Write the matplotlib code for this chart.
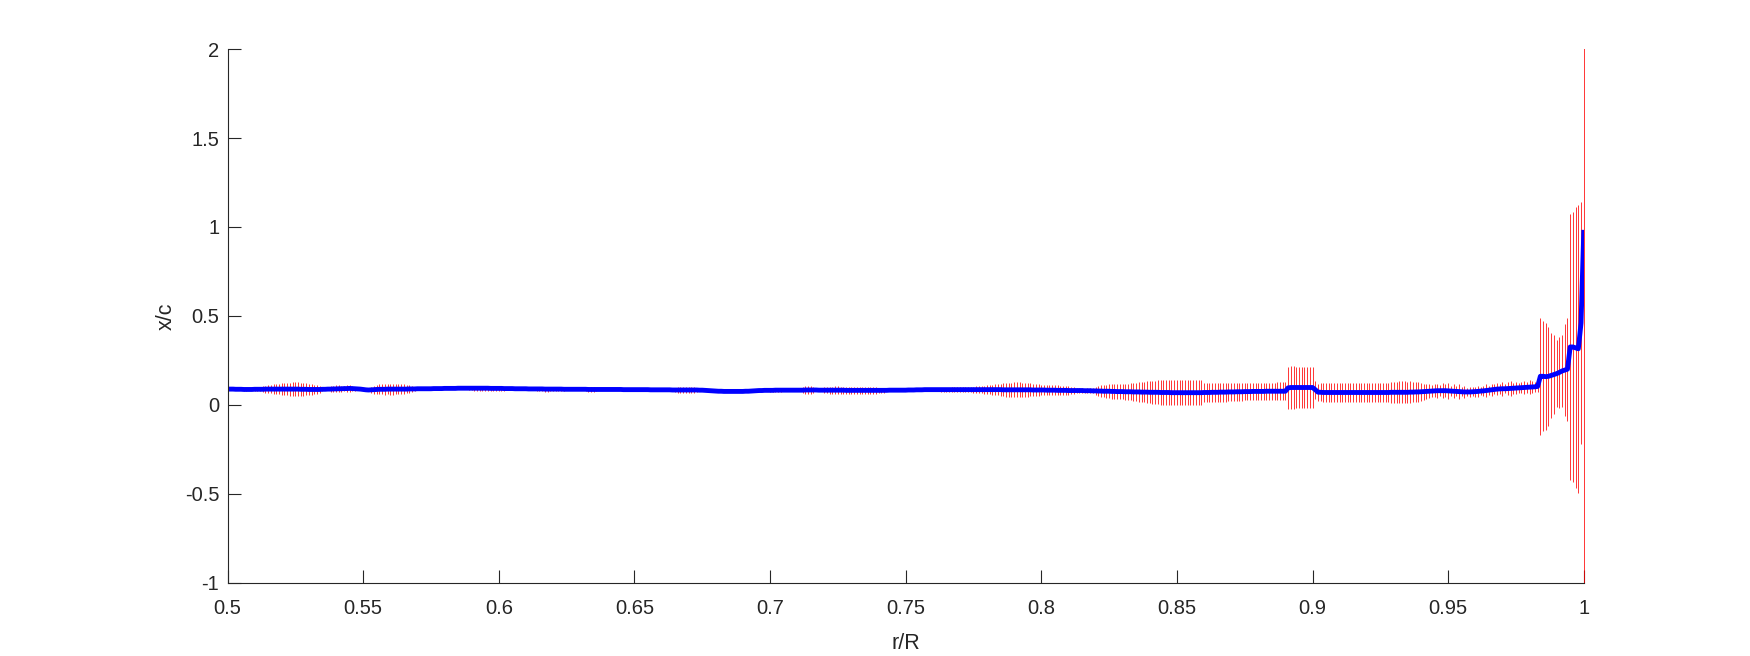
import numpy as np
import matplotlib
matplotlib.use("Agg")
import matplotlib.pyplot as plt
from matplotlib.patches import Rectangle

# radial stations r/R (0.500 ... 1.000, step 0.001)
r_over_R = np.linspace(0.5, 1.0, 501)

# mean chordwise position x/c at each station
xc_mean = [
    0.088, 0.088, 0.088, 0.087, 0.087, 0.087, 0.086, 0.086, 0.086, 0.086, 0.087, 0.087, 0.087, 0.087, 0.088, 0.088, 0.088, 0.088, 0.088, 0.088, 0.088, 0.088, 0.088, 0.088, 0.088,
    0.088, 0.088, 0.087, 0.087, 0.087, 0.086, 0.086, 0.086, 0.086, 0.086, 0.087, 0.087, 0.088, 0.088, 0.089, 0.089, 0.090, 0.090, 0.091, 0.091, 0.092, 0.091, 0.090, 0.089, 0.088,
    0.086, 0.084, 0.083, 0.084, 0.085, 0.086, 0.087, 0.087, 0.087, 0.088, 0.088, 0.088, 0.088, 0.088, 0.088, 0.088, 0.088, 0.089, 0.089, 0.089, 0.090, 0.090, 0.090, 0.090, 0.090,
    0.090, 0.091, 0.091, 0.091, 0.091, 0.092, 0.092, 0.092, 0.092, 0.092, 0.093, 0.093, 0.093, 0.093, 0.093, 0.093, 0.093, 0.093, 0.093, 0.093, 0.093, 0.093, 0.092, 0.092, 0.092,
    0.092, 0.092, 0.091, 0.091, 0.091, 0.091, 0.090, 0.090, 0.090, 0.090, 0.090, 0.089, 0.089, 0.089, 0.089, 0.089, 0.089, 0.088, 0.088, 0.088, 0.088, 0.088, 0.088, 0.088, 0.087,
    0.087, 0.087, 0.087, 0.087, 0.087, 0.087, 0.087, 0.087, 0.086, 0.086, 0.086, 0.086, 0.086, 0.086, 0.086, 0.086, 0.086, 0.086, 0.086, 0.086, 0.086, 0.085, 0.085, 0.085, 0.085,
    0.085, 0.085, 0.085, 0.085, 0.085, 0.085, 0.084, 0.084, 0.084, 0.084, 0.084, 0.084, 0.084, 0.084, 0.083, 0.083, 0.083, 0.083, 0.083, 0.083, 0.083, 0.083, 0.083, 0.083, 0.082,
    0.082, 0.081, 0.080, 0.079, 0.078, 0.077, 0.076, 0.076, 0.075, 0.075, 0.075, 0.075, 0.075, 0.075, 0.075, 0.075, 0.076, 0.076, 0.077, 0.078, 0.079, 0.080, 0.080, 0.081, 0.081,
    0.081, 0.081, 0.082, 0.082, 0.082, 0.082, 0.082, 0.082, 0.082, 0.082, 0.082, 0.082, 0.082, 0.083, 0.083, 0.083, 0.083, 0.083, 0.082, 0.082, 0.082, 0.082, 0.082, 0.082, 0.082,
    0.082, 0.082, 0.082, 0.081, 0.081, 0.081, 0.081, 0.081, 0.081, 0.081, 0.081, 0.081, 0.081, 0.081, 0.081, 0.081, 0.081, 0.081, 0.081, 0.082, 0.082, 0.082, 0.082, 0.082, 0.082,
    0.082, 0.083, 0.083, 0.083, 0.084, 0.084, 0.084, 0.085, 0.085, 0.085, 0.085, 0.085, 0.085, 0.085, 0.085, 0.085, 0.085, 0.085, 0.085, 0.085, 0.085, 0.085, 0.085, 0.085, 0.085,
    0.085, 0.085, 0.085, 0.085, 0.085, 0.085, 0.085, 0.085, 0.085, 0.085, 0.085, 0.084, 0.084, 0.084, 0.084, 0.084, 0.084, 0.084, 0.084, 0.084, 0.084, 0.084, 0.083, 0.083, 0.083,
    0.083, 0.083, 0.082, 0.082, 0.082, 0.082, 0.081, 0.081, 0.081, 0.081, 0.080, 0.080, 0.080, 0.080, 0.080, 0.080, 0.079, 0.079, 0.079, 0.078, 0.078, 0.077, 0.077, 0.076, 0.076,
    0.076, 0.075, 0.075, 0.074, 0.074, 0.074, 0.073, 0.073, 0.073, 0.072, 0.072, 0.072, 0.071, 0.071, 0.071, 0.070, 0.070, 0.070, 0.070, 0.069, 0.069, 0.069, 0.069, 0.068, 0.068,
    0.068, 0.068, 0.068, 0.068, 0.068, 0.068, 0.068, 0.068, 0.068, 0.068, 0.069, 0.069, 0.069, 0.070, 0.070, 0.070, 0.071, 0.071, 0.071, 0.072, 0.072, 0.072, 0.073, 0.073, 0.073,
    0.074, 0.074, 0.074, 0.075, 0.075, 0.075, 0.075, 0.075, 0.076, 0.076, 0.076, 0.076, 0.076, 0.076, 0.076, 0.076, 0.095, 0.097, 0.097, 0.097, 0.097, 0.097, 0.097, 0.097, 0.097,
    0.097, 0.085, 0.071, 0.070, 0.069, 0.069, 0.069, 0.069, 0.069, 0.069, 0.069, 0.069, 0.069, 0.069, 0.069, 0.069, 0.069, 0.069, 0.069, 0.069, 0.069, 0.069, 0.069, 0.069, 0.069,
    0.069, 0.069, 0.069, 0.069, 0.070, 0.070, 0.070, 0.070, 0.070, 0.070, 0.070, 0.071, 0.071, 0.072, 0.072, 0.073, 0.074, 0.075, 0.076, 0.077, 0.078, 0.079, 0.079, 0.079, 0.079,
    0.078, 0.077, 0.076, 0.075, 0.074, 0.073, 0.072, 0.072, 0.072, 0.073, 0.074, 0.075, 0.077, 0.078, 0.080, 0.082, 0.084, 0.086, 0.088, 0.089, 0.090, 0.090, 0.091, 0.092, 0.093,
    0.094, 0.095, 0.096, 0.097, 0.098, 0.099, 0.100, 0.101, 0.103, 0.160, 0.160, 0.158, 0.160, 0.165, 0.170, 0.175, 0.182, 0.190, 0.195, 0.200, 0.325, 0.325, 0.320, 0.315, 0.460,
    0.970,
]

# half-width of the error bar at each station
xc_err = [
    0.004, 0.004, 0.005, 0.005, 0.005, 0.006, 0.006, 0.006, 0.005, 0.005, 0.008, 0.010, 0.012, 0.018, 0.020, 0.022, 0.024, 0.026, 0.028, 0.030, 0.032, 0.034, 0.035, 0.037, 0.038,
    0.040, 0.039, 0.038, 0.036, 0.034, 0.032, 0.030, 0.027, 0.024, 0.020, 0.008, 0.006, 0.006, 0.015, 0.018, 0.020, 0.020, 0.018, 0.015, 0.020, 0.018, 0.015, 0.012, 0.008, 0.005,
    0.004, 0.004, 0.005, 0.018, 0.022, 0.025, 0.027, 0.028, 0.030, 0.030, 0.031, 0.031, 0.030, 0.029, 0.028, 0.026, 0.024, 0.022, 0.018, 0.012, 0.005, 0.005, 0.004, 0.004, 0.004,
    0.004, 0.004, 0.004, 0.004, 0.004, 0.004, 0.004, 0.004, 0.004, 0.004, 0.004, 0.004, 0.004, 0.004, 0.010, 0.012, 0.013, 0.014, 0.014, 0.014, 0.013, 0.013, 0.012, 0.012, 0.012,
    0.012, 0.012, 0.011, 0.010, 0.010, 0.010, 0.009, 0.008, 0.004, 0.004, 0.004, 0.004, 0.004, 0.004, 0.010, 0.012, 0.013, 0.014, 0.014, 0.013, 0.013, 0.012, 0.012, 0.011, 0.010,
    0.004, 0.004, 0.004, 0.004, 0.004, 0.004, 0.004, 0.010, 0.012, 0.013, 0.012, 0.011, 0.004, 0.004, 0.004, 0.004, 0.004, 0.004, 0.004, 0.004, 0.004, 0.004, 0.004, 0.004, 0.004,
    0.004, 0.004, 0.004, 0.004, 0.004, 0.004, 0.004, 0.004, 0.004, 0.004, 0.004, 0.004, 0.004, 0.004, 0.004, 0.014, 0.017, 0.018, 0.018, 0.018, 0.018, 0.017, 0.015, 0.012, 0.004,
    0.004, 0.004, 0.004, 0.004, 0.004, 0.004, 0.004, 0.004, 0.004, 0.004, 0.004, 0.004, 0.004, 0.004, 0.004, 0.004, 0.004, 0.004, 0.004, 0.004, 0.004, 0.004, 0.004, 0.004, 0.004,
    0.008, 0.010, 0.010, 0.010, 0.008, 0.004, 0.004, 0.004, 0.004, 0.004, 0.004, 0.004, 0.018, 0.020, 0.020, 0.020, 0.018, 0.004, 0.004, 0.004, 0.016, 0.018, 0.020, 0.020, 0.021,
    0.021, 0.020, 0.020, 0.019, 0.019, 0.020, 0.020, 0.019, 0.018, 0.018, 0.018, 0.019, 0.019, 0.018, 0.018, 0.016, 0.015, 0.014, 0.005, 0.005, 0.004, 0.004, 0.004, 0.004, 0.004,
    0.004, 0.004, 0.004, 0.004, 0.004, 0.006, 0.008, 0.008, 0.009, 0.009, 0.010, 0.010, 0.010, 0.011, 0.011, 0.012, 0.012, 0.013, 0.013, 0.014, 0.014, 0.015, 0.015, 0.016, 0.016,
    0.017, 0.018, 0.019, 0.020, 0.022, 0.024, 0.026, 0.028, 0.030, 0.032, 0.034, 0.036, 0.038, 0.040, 0.041, 0.042, 0.042, 0.042, 0.041, 0.040, 0.038, 0.036, 0.034, 0.033, 0.032,
    0.030, 0.030, 0.029, 0.029, 0.028, 0.028, 0.028, 0.027, 0.026, 0.025, 0.024, 0.022, 0.018, 0.015, 0.013, 0.012, 0.012, 0.013, 0.014, 0.014, 0.022, 0.030, 0.032, 0.034, 0.036,
    0.038, 0.040, 0.040, 0.041, 0.042, 0.043, 0.044, 0.046, 0.048, 0.050, 0.052, 0.054, 0.056, 0.058, 0.060, 0.062, 0.064, 0.066, 0.067, 0.068, 0.069, 0.070, 0.070, 0.071, 0.071,
    0.071, 0.071, 0.072, 0.072, 0.071, 0.071, 0.070, 0.070, 0.070, 0.069, 0.055, 0.054, 0.054, 0.053, 0.053, 0.053, 0.054, 0.054, 0.053, 0.053, 0.052, 0.052, 0.052, 0.051, 0.051,
    0.050, 0.050, 0.050, 0.049, 0.049, 0.048, 0.048, 0.048, 0.048, 0.047, 0.047, 0.048, 0.050, 0.052, 0.052, 0.050, 0.118, 0.122, 0.120, 0.118, 0.116, 0.116, 0.116, 0.114, 0.114,
    0.114, 0.050, 0.048, 0.050, 0.052, 0.052, 0.052, 0.052, 0.054, 0.055, 0.055, 0.056, 0.056, 0.056, 0.056, 0.055, 0.055, 0.055, 0.055, 0.055, 0.054, 0.054, 0.054, 0.054, 0.054,
    0.053, 0.053, 0.053, 0.054, 0.058, 0.060, 0.060, 0.061, 0.061, 0.061, 0.060, 0.060, 0.058, 0.056, 0.054, 0.050, 0.045, 0.040, 0.038, 0.035, 0.036, 0.040, 0.030, 0.042, 0.035,
    0.045, 0.030, 0.038, 0.028, 0.042, 0.025, 0.035, 0.022, 0.030, 0.025, 0.028, 0.032, 0.022, 0.030, 0.035, 0.025, 0.035, 0.028, 0.033, 0.030, 0.038, 0.025, 0.035, 0.040, 0.030,
    0.035, 0.028, 0.030, 0.036, 0.030, 0.038, 0.035, 0.028, 0.030, 0.330, 0.310, 0.300, 0.280, 0.240, 0.220, 0.190, 0.200, 0.200, 0.260, 0.290, 0.750, 0.760, 0.790, 0.810, 0.680,
    3.000,
]

x_ticks = [0.5, 0.55, 0.6, 0.65, 0.7, 0.75, 0.8, 0.85, 0.9, 0.95, 1.0]
x_tick_labels = ["0.5", "0.55", "0.6", "0.65", "0.7", "0.75", "0.8", "0.85", "0.9", "0.95", "1"]
y_ticks = [-1, -0.5, 0, 0.5, 1, 1.5, 2]
y_tick_labels = ["-1", "-0.5", "0", "0.5", "1", "1.5", "2"]

AX_COLOR = "#262626"
plt.rcParams["font.family"] = ["Liberation Sans", "DejaVu Sans"]
TICK_FS, LABEL_FS = 14.5, 15.5

fig = plt.figure(figsize=(17.5, 6.56), dpi=100)
ax = fig.add_axes([0.13, 0.112, 0.775, 0.813])

eb = ax.errorbar(r_over_R, xc_mean, yerr=xc_err, fmt="none", ecolor="#ff0000",
                 elinewidth=0.65, capsize=0, zorder=2)
# let the bar that sits exactly on the right axis edge show fully
clip_rect = Rectangle((-0.005, 0.0), 1.01, 1.0, transform=ax.transAxes,
                      facecolor="none", edgecolor="none")
for coll in eb.lines[2]:
    coll.set_clip_path(clip_rect)
    coll.set_alpha(0.85)

ax.plot(r_over_R, xc_mean, color="#0000ff", linewidth=3.5, zorder=3)

ax.set_xlim(0.5, 1.0)
ax.set_ylim(-1, 2)
ax.set_xticks(x_ticks)
ax.set_xticklabels(x_tick_labels)
ax.set_yticks(y_ticks)
ax.set_yticklabels(y_tick_labels)

for side in ("top", "right"):
    ax.spines[side].set_visible(False)
for side in ("left", "bottom"):
    ax.spines[side].set_color(AX_COLOR)
    ax.spines[side].set_linewidth(0.8)
    ax.spines[side].set_zorder(4)

ax.tick_params(axis="both", direction="in", length=9.7, width=0.8,
               colors=AX_COLOR, labelsize=TICK_FS, labelcolor=AX_COLOR)
ax.tick_params(axis="x", pad=12)
ax.tick_params(axis="y", pad=6)

ax.set_xlabel("r/R", fontsize=LABEL_FS, color=AX_COLOR, labelpad=11)
ax.set_ylabel("x/c", fontsize=LABEL_FS, color=AX_COLOR, labelpad=6)

fig.savefig("out.png", dpi=100, facecolor="white")
